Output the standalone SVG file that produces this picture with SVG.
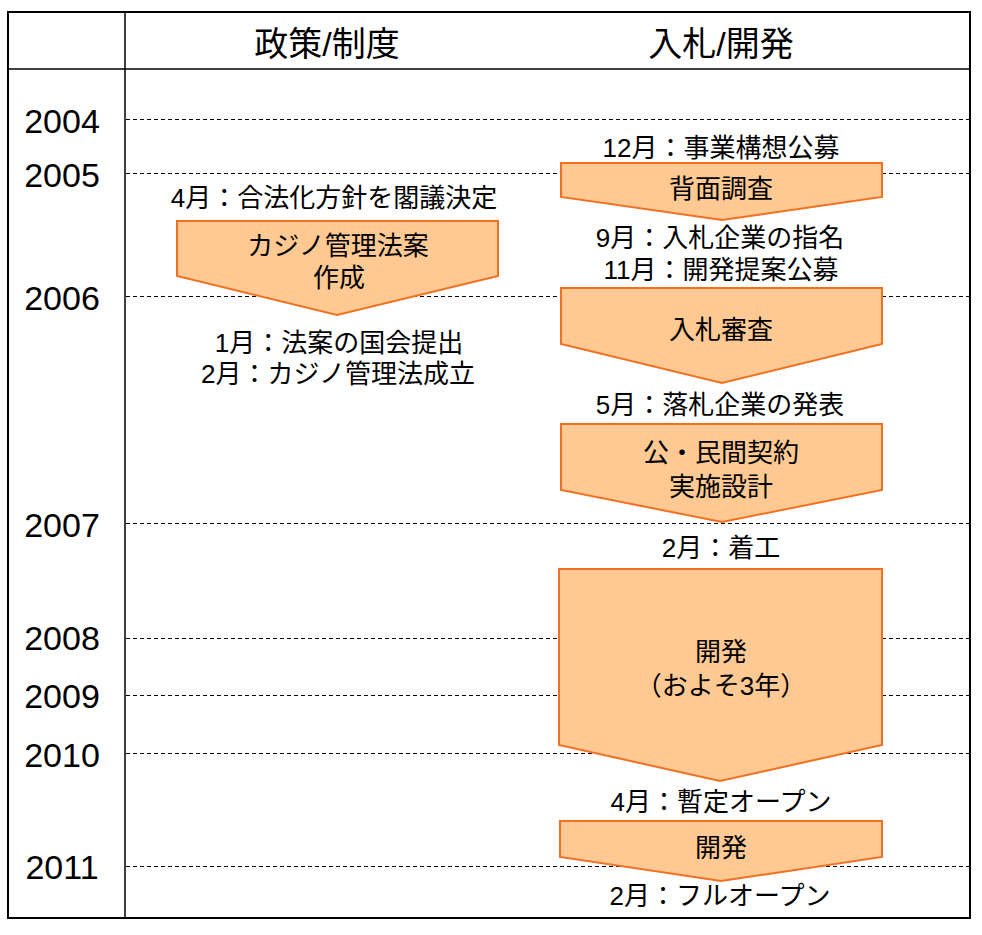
<svg xmlns="http://www.w3.org/2000/svg" width="982" height="935" viewBox="0 0 982 935">
<style>
.t{font-family:"Liberation Sans","Noto Sans CJK JP",sans-serif;fill:#000;text-anchor:middle}
.hd{font-size:34px}
.yr{font-size:34px}
.lb{font-size:26px}
.grid{stroke:#000;stroke-width:1;stroke-dasharray:4 3;fill:none}
.arr{fill:#FFC993;stroke:#F47020;stroke-width:2;stroke-linejoin:miter}
</style>
<rect x="0" y="0" width="982" height="935" fill="#fff"/>
<g id="table">
<rect x="8" y="12" width="962" height="906" fill="none" stroke="#000" stroke-width="2"/>
<line x1="8" y1="69" x2="970" y2="69" stroke="#000" stroke-width="1.5"/>
<line x1="125" y1="12" x2="125" y2="918" stroke="#000" stroke-width="1.5"/>
<text class="t hd" x="327" y="56">政策/制度</text>
<text class="t hd" x="721" y="56">入札/開発</text>
</g>
<g id="connectors">
<line class="grid" x1="126" y1="119.5" x2="969" y2="119.5"/>
<line class="grid" x1="126" y1="173.5" x2="969" y2="173.5"/>
<line class="grid" x1="126" y1="296.5" x2="969" y2="296.5"/>
<line class="grid" x1="126" y1="523.5" x2="969" y2="523.5"/>
<line class="grid" x1="126" y1="638.5" x2="969" y2="638.5"/>
<line class="grid" x1="126" y1="695.5" x2="969" y2="695.5"/>
<line class="grid" x1="126" y1="753.5" x2="969" y2="753.5"/>
<line class="grid" x1="126" y1="866.5" x2="969" y2="866.5"/>
</g>
<g id="years">
<text class="t yr" x="62" y="133">2004</text>
<text class="t yr" x="62" y="187">2005</text>
<text class="t yr" x="62" y="310">2006</text>
<text class="t yr" x="62" y="537">2007</text>
<text class="t yr" x="62" y="650">2008</text>
<text class="t yr" x="62" y="708">2009</text>
<text class="t yr" x="62" y="767">2010</text>
<text class="t yr" x="62" y="879">2011</text>
</g>
<g id="node-casino-bill">
<polygon class="arr" points="177,221 498,221 498,276 337,315 177,276"/>
<text class="t lb" x="338" y="255">カジノ管理法案</text>
<text class="t lb" x="339" y="287">作成</text>
</g>
<g id="node-survey">
<polygon class="arr" points="561,163 882,163 882,197 722,220 561,197"/>
<text class="t lb" x="721" y="198">背面調査</text>
</g>
<g id="node-bid-review">
<polygon class="arr" points="561,288 882,288 882,344 722,383 561,344"/>
<text class="t lb" x="721" y="339">入札審査</text>
</g>
<g id="node-contract">
<polygon class="arr" points="561,424 882,424 882,490 722,522 561,490"/>
<text class="t lb" x="721" y="462">公・民間契約</text>
<text class="t lb" x="721" y="496">実施設計</text>
</g>
<g id="node-development">
<polygon class="arr" points="559,569 882,569 882,745 720,781 559,745"/>
<text class="t lb" x="721" y="661">開発</text>
<text class="t lb" x="721" y="695">（およそ3年）</text>
</g>
<g id="node-development2">
<polygon class="arr" points="560,821 882,821 882,857 721,881 560,857"/>
<text class="t lb" x="721" y="857">開発</text>
</g>
<g id="labels">
<text class="t lb" x="334" y="207">4月：合法化方針を閣議決定</text>
<text class="t lb" x="339" y="352">1月：法案の国会提出</text>
<text class="t lb" x="338" y="383">2月：カジノ管理法成立</text>
<text class="t lb" x="721" y="157">12月：事業構想公募</text>
<text class="t lb" x="720" y="247">9月：入札企業の指名</text>
<text class="t lb" x="721" y="279">11月：開発提案公募</text>
<text class="t lb" x="720" y="414">5月：落札企業の発表</text>
<text class="t lb" x="721" y="557">2月：着工</text>
<text class="t lb" x="721" y="811">4月：暫定オープン</text>
<text class="t lb" x="720" y="905">2月：フルオープン</text>
</g>
</svg>
